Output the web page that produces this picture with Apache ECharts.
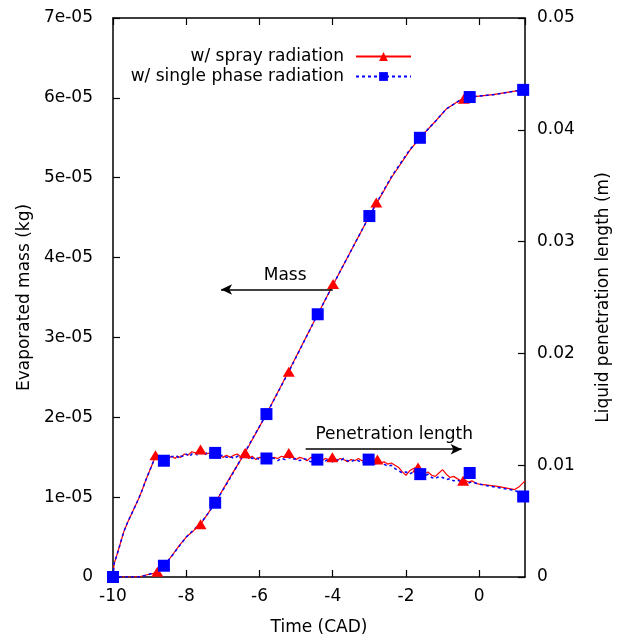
<!DOCTYPE html>
<html>
<head>
<meta charset="utf-8">
<script src="https://cdn.jsdelivr.net/npm/echarts@6/dist/echarts.min.js"></script>
<style>
html,body{margin:0;padding:0;background:#fff;}
#chart{width:618px;height:644px;}
</style>
</head>
<body>
<div id="chart"></div>
<script>
// ---- Data ----
var seriesNames = ['w/ spray radiation', 'w/ single phase radiation'];
var xTicks = [-10, -8, -6, -4, -2, 0];

// Evaporated mass (kg) vs time (CAD)
var massSpray = [
  [-10,0],[-9.5,0],[-9.3,0.0005e-5],[-9.1,0.025e-5],[-8.9,0.045e-5],[-8.79,0.066e-5],[-8.61,0.14e-5],
  [-8.4,0.26e-5],[-8.2,0.39e-5],[-8.0,0.50e-5],[-7.8,0.58e-5],[-7.61,0.66e-5],[-7.4,0.80e-5],[-7.21,0.93e-5],
  [-6.8,1.25e-5],[-6.39,1.56e-5],[-5.81,2.04e-5],[-5.2,2.58e-5],[-4.41,3.29e-5],[-3.99,3.66e-5],
  [-3.0,4.52e-5],[-2.81,4.67e-5],[-2.4,5.0e-5],[-1.9,5.34e-5],[-1.62,5.50e-5],[-1.17,5.72e-5],
  [-0.9,5.86e-5],[-0.53,5.97e-5],[-0.26,6.01e-5],[0.38,6.04e-5],[1.18,6.10e-5],[1.25,6.11e-5]
];
var massSingle = [
  [-10,0],[-9.5,0],[-9.3,0.0005e-5],[-9.1,0.02e-5],[-8.9,0.05e-5],[-8.79,0.07e-5],[-8.61,0.14e-5],
  [-8.4,0.26e-5],[-8.2,0.38e-5],[-8.0,0.50e-5],[-7.8,0.59e-5],[-7.61,0.67e-5],[-7.4,0.80e-5],[-7.21,0.93e-5],
  [-6.8,1.24e-5],[-6.39,1.57e-5],[-5.81,2.04e-5],[-5.2,2.57e-5],[-4.41,3.29e-5],[-3.99,3.66e-5],
  [-3.0,4.52e-5],[-2.81,4.68e-5],[-2.4,5.01e-5],[-1.9,5.35e-5],[-1.62,5.50e-5],[-1.17,5.72e-5],
  [-0.9,5.86e-5],[-0.53,5.97e-5],[-0.26,6.01e-5],[0.38,6.04e-5],[1.2,6.10e-5]
];
var massSprayMarks = [[-10,0],[-8.79,0.066e-5],[-7.61,0.66e-5],[-6.39,1.55e-5],[-5.2,2.57e-5],[-3.99,3.67e-5],[-2.81,4.69e-5],[-1.61,5.5e-5],[-0.42,5.99e-5]];
var massSingleMarks = [[-10,0],[-8.61,0.141e-5],[-7.21,0.93e-5],[-5.81,2.04e-5],[-4.41,3.29e-5],[-3.0,4.52e-5],[-1.62,5.50e-5],[-0.26,6.01e-5],[1.2,6.10e-5]];

// Liquid penetration length (m) vs time (CAD)
var penSpray = [
  [-10,0],[-9.97,0.0012],[-9.9,0.0019],[-9.8,0.0030],[-9.7,0.0041],[-9.6,0.0049],[-9.5,0.0056],[-9.4,0.0063],
  [-9.3,0.0070],[-9.2,0.0078],[-9.1,0.0087],[-9.0,0.0095],[-8.9,0.0103],[-8.84,0.0108],[-8.8,0.0107],
  [-8.75,0.0105],[-8.7,0.0106],[-8.65,0.0104],[-8.6,0.0105],[-8.55,0.0104],[-8.5,0.0106],[-8.45,0.0105],[-8.4,0.0108],
  [-8.35,0.0107],[-8.3,0.0106],[-8.25,0.0108],[-8.2,0.0109],[-8.15,0.0107],[-8.1,0.0108],[-8.05,0.0110],[-8.0,0.0111],
  [-7.95,0.0109],[-7.9,0.0110],[-7.85,0.0112],[-7.8,0.0113],[-7.75,0.0111],[-7.7,0.0110],[-7.65,0.0112],[-7.6,0.0113],
  [-7.55,0.0112],[-7.5,0.0111],[-7.45,0.0110],[-7.4,0.0109],[-7.35,0.0111],[-7.3,0.0110],[-7.25,0.0108],[-7.2,0.0108],
  [-7.1,0.0110],[-7.0,0.0107],[-6.9,0.0109],[-6.8,0.0107],[-6.7,0.0109],[-6.6,0.0110],[-6.5,0.0107],[-6.4,0.0110],
  [-6.3,0.0106],[-6.2,0.0108],[-6.1,0.0105],[-6.0,0.0107],[-5.9,0.0106],[-5.8,0.0108],[-5.7,0.0105],[-5.6,0.0107],
  [-5.5,0.0106],[-5.4,0.0108],[-5.3,0.0107],[-5.2,0.0110],[-5.1,0.0107],[-5.0,0.0105],[-4.9,0.0107],[-4.8,0.0106],
  [-4.7,0.0104],[-4.6,0.0107],[-4.5,0.0105],[-4.4,0.0106],[-4.3,0.0104],[-4.2,0.0106],[-4.1,0.0105],[-4.0,0.0107],
  [-3.9,0.0104],[-3.8,0.0106],[-3.7,0.0105],[-3.6,0.0103],[-3.5,0.0105],[-3.4,0.0104],[-3.3,0.0106],[-3.2,0.0104],
  [-3.1,0.0105],[-3.0,0.0103],[-2.9,0.0105],[-2.8,0.0104],[-2.7,0.0102],[-2.6,0.0103],[-2.5,0.0101],[-2.4,0.0102],
  [-2.3,0.0100],[-2.2,0.0098],[-2.1,0.0094],[-2.0,0.0091],[-1.9,0.0095],[-1.8,0.0097],[-1.7,0.0098],[-1.6,0.0094],
  [-1.5,0.0092],[-1.4,0.0094],[-1.3,0.0091],[-1.2,0.0090],[-1.1,0.0093],[-1.0,0.0096],[-0.9,0.0092],[-0.8,0.0089],
  [-0.7,0.0090],[-0.6,0.0088],[-0.5,0.0086],[-0.4,0.0087],[-0.3,0.0085],[-0.2,0.0086],[-0.1,0.0084],[0,0.0083],
  [0.5,0.0081],[0.97,0.00782],[1.1,0.0081],[1.25,0.0086]
];
var penSingle = [
  [-10,0],[-9.97,0.0012],[-9.9,0.0019],[-9.8,0.0030],[-9.7,0.0041],[-9.6,0.0049],[-9.5,0.0056],[-9.4,0.0063],
  [-9.3,0.0070],[-9.2,0.0078],[-9.1,0.0087],[-9.0,0.0095],[-8.9,0.0103],[-8.8,0.0106],
  [-8.75,0.0104],[-8.7,0.0105],[-8.65,0.0103],[-8.6,0.0104],[-8.55,0.0106],[-8.5,0.0105],[-8.45,0.0107],[-8.4,0.0106],
  [-8.35,0.0108],[-8.3,0.0107],[-8.25,0.0108],[-8.2,0.0106],[-8.15,0.0108],[-8.1,0.0109],[-8.05,0.0108],[-8.0,0.0110],
  [-7.95,0.0109],[-7.9,0.0108],[-7.85,0.0110],[-7.8,0.0109],[-7.75,0.0111],[-7.7,0.0109],[-7.65,0.0110],[-7.6,0.0111],
  [-7.55,0.0110],[-7.5,0.0109],[-7.45,0.0111],[-7.4,0.0110],[-7.35,0.0108],[-7.3,0.0109],[-7.25,0.0110],[-7.2,0.0110],
  [-7.1,0.0108],[-7.0,0.0109],[-6.9,0.0107],[-6.8,0.0108],[-6.7,0.0106],[-6.6,0.0108],[-6.5,0.0109],[-6.4,0.0106],
  [-6.3,0.0108],[-6.2,0.0106],[-6.1,0.0107],[-6.0,0.0105],[-5.9,0.0107],[-5.8,0.0105],[-5.7,0.0107],[-5.6,0.0106],
  [-5.5,0.0104],[-5.4,0.0106],[-5.3,0.0105],[-5.2,0.0107],[-5.1,0.0105],[-5.0,0.0106],[-4.9,0.0104],[-4.8,0.0106],
  [-4.7,0.0105],[-4.6,0.0103],[-4.5,0.0105],[-4.4,0.0104],[-4.3,0.0106],[-4.2,0.0104],[-4.1,0.0105],[-4.0,0.0103],
  [-3.9,0.0105],[-3.8,0.0104],[-3.7,0.0106],[-3.6,0.0104],[-3.5,0.0103],[-3.4,0.0105],[-3.3,0.0104],[-3.2,0.0102],
  [-3.1,0.0104],[-3.0,0.0103],[-2.9,0.0102],[-2.8,0.0101],[-2.7,0.0103],[-2.6,0.0101],[-2.5,0.0099],[-2.4,0.0100],
  [-2.3,0.0097],[-2.2,0.0095],[-2.1,0.0093],[-2.0,0.0094],[-1.9,0.0092],[-1.8,0.0094],[-1.7,0.0093],[-1.6,0.0091],
  [-1.5,0.0090],[-1.4,0.0092],[-1.3,0.0089],[-1.2,0.0088],[-1.1,0.0090],[-1.0,0.0089],[-0.9,0.0087],[-0.8,0.0088],
  [-0.7,0.0086],[-0.6,0.0087],[-0.5,0.0085],[-0.4,0.0086],[-0.3,0.0084],[-0.2,0.0085],[-0.1,0.0084],[0,0.0083],
  [0.5,0.0080],[0.97,0.00775],[1.1,0.0075],[1.2,0.0072]
];
var penSprayMarks = [[-8.84,0.0109],[-7.61,0.0114],[-6.39,0.0111],[-5.2,0.0111],[-4.01,0.0107],[-2.78,0.0105],[-1.67,0.0098],[-0.44,0.0086]];
var penSingleMarks = [[-10,0],[-8.61,0.0104],[-7.21,0.0111],[-5.81,0.0106],[-4.42,0.0105],[-3.02,0.0105],[-1.61,0.0092],[-0.26,0.0093],[1.2,0.0072]];

// Annotations (data coordinates on the left axis)
var massArrow = [[-4.0,3.6e-5],[-7.05,3.6e-5]];
var massText = [-5.3,3.78e-5];
var penArrow = [[-4.74,1.6e-5],[-0.48,1.6e-5]];
var penText = [-2.32,1.78e-5];

// ---- Chart ----
var RED = '#ff0000', BLUE = '#0000ff';
var FONT = '"DejaVu Sans", Verdana, sans-serif';
var FS = 17;
var chart = echarts.init(document.getElementById('chart'), null, {renderer:'canvas'});

function massFmt(v){ if (v === 0) return '0'; return Math.round(v/1e-5) + 'e-05'; }
function penFmt(v){ if (v === 0) return '0'; return v.toFixed(2); }

var axisCommon = {
  axisLine:{show:true, onZero:false, lineStyle:{color:'#000', width:1.5}},
  axisTick:{show:true, inside:true, length:7, lineStyle:{color:'#000', width:1.2}},
  splitLine:{show:false},
  axisLabel:{color:'#000', fontSize:FS, fontFamily:FONT},
  nameTextStyle:{color:'#000', fontSize:FS, fontFamily:FONT}
};

var option = {
  animation:false,
  backgroundColor:'#fff',
  textStyle:{fontFamily:FONT},
  grid:{left:113, right:93, top:18, bottom:67, containLabel:false, outerBoundsMode:'none'},
  legend:{
    data:seriesNames,
    orient:'vertical',
    right:206, top:48, padding:0,
    align:'right',
    itemWidth:55, itemHeight:11, itemGap:3,
    textStyle:{color:'#000', fontSize:FS, fontFamily:FONT, padding:[0,7,0,0]},
    selectedMode:false
  },
  xAxis:[
    Object.assign({}, axisCommon, {
      type:'value', min:-10, max:1.25, interval:2, position:'bottom',
      name:'Time (CAD)', nameLocation:'middle', nameGap:42,
      axisLabel:Object.assign({}, axisCommon.axisLabel, {margin:11, showMaxLabel:false})
    }),
    Object.assign({}, axisCommon, {
      type:'value', min:-10, max:1.25, interval:2, position:'top',
      axisLabel:{show:false}
    })
  ],
  yAxis:[
    Object.assign({}, axisCommon, {
      type:'value', min:0, max:7e-5, interval:1e-5, position:'left',
      name:'Evaporated mass (kg)', nameLocation:'middle', nameGap:80, nameRotate:90,
      axisLabel:Object.assign({}, axisCommon.axisLabel, {margin:20, formatter:massFmt})
    }),
    Object.assign({}, axisCommon, {
      type:'value', min:0, max:0.05, interval:0.01, position:'right',
      name:'Liquid penetration length (m)', nameLocation:'middle', nameGap:70, nameRotate:90,
      axisLabel:Object.assign({}, axisCommon.axisLabel, {margin:12, formatter:penFmt})
    })
  ],
  series:[
    {name:seriesNames[0], type:'line', data:massSpray, yAxisIndex:0, symbol:'triangle', symbolSize:10, showSymbol:false,
     lineStyle:{color:RED, width:1.2}, itemStyle:{color:RED}, z:2, silent:true},
    {name:seriesNames[0], type:'line', data:penSpray, yAxisIndex:1, symbol:'triangle', symbolSize:10, showSymbol:false,
     lineStyle:{color:RED, width:1.2}, itemStyle:{color:RED}, z:2, silent:true},
    {name:seriesNames[1], type:'line', data:massSingle, yAxisIndex:0, symbol:'rect', symbolSize:11, showSymbol:false,
     lineStyle:{color:BLUE, width:1.5, type:[3,3]}, itemStyle:{color:BLUE}, z:3, silent:true},
    {name:seriesNames[1], type:'line', data:penSingle, yAxisIndex:1, symbol:'rect', symbolSize:11, showSymbol:false,
     lineStyle:{color:BLUE, width:1.5, type:[3,3]}, itemStyle:{color:BLUE}, z:3, silent:true},
    {type:'scatter', data:massSprayMarks, yAxisIndex:0, symbol:'triangle', symbolSize:[12,10], itemStyle:{color:RED, opacity:1}, z:4, silent:true},
    {type:'scatter', data:penSprayMarks, yAxisIndex:1, symbol:'triangle', symbolSize:[12,10], itemStyle:{color:RED, opacity:1}, z:4, silent:true},
    {type:'scatter', data:massSingleMarks, yAxisIndex:0, symbol:'rect', symbolSize:12, itemStyle:{color:BLUE, opacity:1}, z:5, silent:true},
    {type:'scatter', data:penSingleMarks, yAxisIndex:1, symbol:'rect', symbolSize:12, itemStyle:{color:BLUE, opacity:1}, z:5, silent:true},
    {type:'line', data:[], yAxisIndex:0, silent:true, z:6,
     markLine:{
       silent:true, symbol:['none','arrow'], symbolSize:[8,11],
       lineStyle:{color:'#000', width:1.5, type:'solid'},
       label:{show:false},
       data:[
         [{coord:massArrow[0]},{coord:massArrow[1]}],
         [{coord:penArrow[0]},{coord:penArrow[1]}]
       ]
     },
     markPoint:{
       silent:true, symbol:'circle', symbolSize:0,
       label:{show:true, position:'inside', color:'#000', fontSize:FS, fontFamily:FONT},
       data:[
         {coord:massText, value:'Mass', label:{formatter:'Mass'}},
         {coord:penText, value:'Penetration length', label:{formatter:'Penetration length'}}
       ]
     }
    }
  ]
};
chart.setOption(option);
</script>
</body>
</html>
